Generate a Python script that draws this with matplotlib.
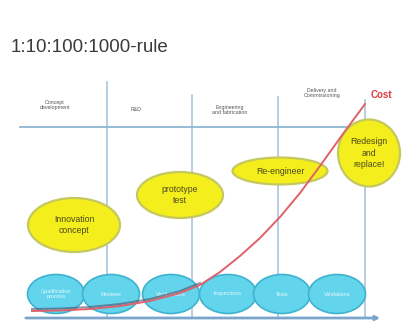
import matplotlib.pyplot as plt
from matplotlib.patches import Ellipse

plt.rcParams['font.family'] = ['Liberation Sans', 'DejaVu Sans']

title = "1:10:100:1000-rule"
phases = ["Concept\ndevelopment", "R&D", "Engineering\nand fabrication", "Delivery and\nCommissioning"]
phase_xy = [(55, 105), (136, 109), (230, 110), (322, 93)]
actions = ["Innovation\nconcept", "prototype\ntest", "Re-engineer", "Redesign\nand\nreplace!"]
action_box = [(74, 225, 92, 54), (180, 195, 86, 46), (280, 171, 95, 27), (369, 153, 62, 67)]
checks = ["Qualification\nprocess", "Reviews", "Verifications", "Inspections", "Tests", "Validations"]
check_x = [56, 111, 171, 228, 282, 337]

# cost curve (pixel coords)
cost_x = [32, 60, 90, 120, 150, 180, 200, 220, 240, 260, 280, 300, 320, 340, 365]
cost_y = [310, 309.5, 308, 305, 300, 292, 284, 271, 255, 237, 216, 192, 165, 137, 103]

fig = plt.figure(figsize=(4.03, 3.22), dpi=100)
ax = fig.add_axes([0, 0, 1, 1])
ax.set_xlim(0, 403)
ax.set_ylim(322, 0)
ax.axis('off')

ax.text(11, 47, title, fontsize=13.5, color='#3a3a3a', va='center', ha='left')

# grid lines
for x, top in zip([107, 192, 278, 365], [82, 95, 97, 100]):
    ax.plot([x, x], [top, 318], color='#a9c6da', lw=1.2, zorder=1)
ax.plot([20, 365], [127, 127], color='#8fb6d2', lw=1.3, zorder=1)
ax.annotate('', xy=(383, 318), xytext=(23, 318),
            arrowprops=dict(arrowstyle='-|>', color='#7aa6cc', lw=2, mutation_scale=6), zorder=2)

for lab, (x, y) in zip(phases, phase_xy):
    ax.text(x, y, lab, fontsize=3.8, color='#555555', ha='center', va='center', linespacing=1.1)
ax.text(381, 95, "Cost", fontsize=7, color='#e23a3a', fontweight='bold', ha='center', va='center')

for lab, (x, y, w, h) in zip(actions, action_box):
    ax.add_patch(Ellipse((x, y), w, h, facecolor='#f4ee1c', edgecolor='#c4c85e', lw=1.6, zorder=3))
    ax.text(x, y, lab, fontsize=6.3, color='#4d4a1e', ha='center', va='center', linespacing=1.3, zorder=4)

for lab, x in zip(checks, check_x):
    ax.add_patch(Ellipse((x, 294), 57, 39, facecolor='#62d4ec', edgecolor='#3fb2cf', lw=1.2, zorder=3))
    ax.text(x, 294, lab, fontsize=4, color='#e8f8fc', ha='center', va='center', zorder=4)

low = [i for i, x in enumerate(cost_x) if x <= 200]
ax.plot([cost_x[i] for i in low], [cost_y[i] - 1 for i in low], color='#4a4e6a', lw=1.4, alpha=0.6, zorder=5)
ax.plot(cost_x, [y + 1 for y in cost_y], color='#e0606a', lw=1.4, zorder=5)

fig.savefig('out.png', dpi=100)
